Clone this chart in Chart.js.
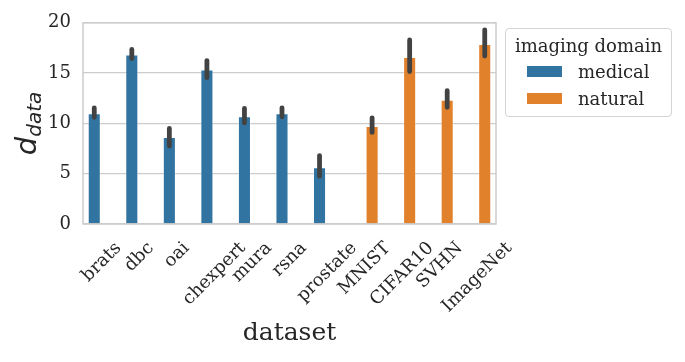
<!DOCTYPE html>
<html>
<head>
<meta charset="utf-8">
<script src="https://cdn.jsdelivr.net/npm/chart.js@4/dist/chart.umd.min.js"></script>
<style>
  html, body { margin: 0; padding: 0; background: #ffffff; }
  #wrap { position: relative; width: 685px; height: 362px; }
  #legend {
    position: absolute; left: 505px; top: 28px; width: 165px; height: 87px;
    border: 1px solid #d4d4d4; border-radius: 4px; background: #fff;
    font-family: "DejaVu Serif", serif; font-size: 18px; color: #262626;
  }
  #legend .title { position: absolute; left: 0; right: 0; text-align: center; line-height: 1; transform: translateY(-50%); top: 17px; white-space: nowrap; }
  #legend .sw { position: absolute; left: 21px; width: 35px; height: 11px; }
  #legend .lb { position: absolute; left: 72px; white-space: nowrap; line-height: 1; transform: translateY(-50%); }
</style>
</head>
<body>
<div id="wrap">
  <canvas id="c" width="685" height="362"></canvas>
  <div id="legend"></div>
</div>
<script>
const categories = ["brats","dbc","oai","chexpert","mura","rsna","prostate","MNIST","CIFAR10","SVHN","ImageNet"];
const medicalValues = [11.0, 16.85, 8.65, 15.35, 10.7, 11.0, 5.65, null, null, null, null];
const naturalValues = [null, null, null, null, null, null, null, 9.75, 16.6, 12.35, 17.9];
const medicalLow  = [10.6, 16.45, 7.75, 14.55, 10.05, 10.65, 4.75, null, null, null, null];
const medicalHigh = [11.55, 17.35, 9.5, 16.25, 11.5, 11.55, 6.8, null, null, null, null];
const naturalLow  = [null, null, null, null, null, null, null, 9.1, 15.15, 11.6, 16.7];
const naturalHigh = [null, null, null, null, null, null, null, 10.55, 18.3, 13.25, 19.3];
const seriesNames = ["medical", "natural"];
const yTicks = [0, 5, 10, 15, 20];

const COLORS = ["#3274a1", "#e1812c"];
const TEXT = "#262626";
const GRID = "#cccccc";
const SERIF = '"DejaVu Serif", serif';

const errorBars = [[medicalLow, medicalHigh], [naturalLow, naturalHigh]];

const framePlugin = {
  id: 'frame',
  beforeDatasetsDraw(chart) {
    const {ctx, chartArea: a} = chart;
    ctx.save();
    ctx.strokeStyle = GRID;
    ctx.lineWidth = 1.5;
    ctx.strokeRect(a.left, a.top, a.right - a.left, a.bottom - a.top);
    ctx.restore();
  }
};

const errorPlugin = {
  id: 'errors',
  afterDatasetsDraw(chart) {
    const {ctx} = chart;
    const y = chart.scales.y;
    ctx.save();
    ctx.strokeStyle = "#424242";
    ctx.lineWidth = 4.8;
    ctx.lineCap = "round";
    chart.data.datasets.forEach((ds, i) => {
      const meta = chart.getDatasetMeta(i);
      const [lo, hi] = errorBars[i];
      meta.data.forEach((el, j) => {
        if (ds.data[j] == null || lo[j] == null) return;
        ctx.beginPath();
        ctx.moveTo(el.x, y.getPixelForValue(lo[j]));
        ctx.lineTo(el.x, y.getPixelForValue(hi[j]));
        ctx.stroke();
      });
    });
    ctx.restore();
  }
};

const labelPlugin = {
  id: 'labels',
  afterDraw(chart) {
    const {ctx, chartArea: a} = chart;
    const x = chart.scales.x;
    ctx.save();
    ctx.font = "18px " + SERIF;
    ctx.fillStyle = TEXT;
    ctx.textAlign = "right";
    ctx.textBaseline = "middle";
    const h = 18;
    categories.forEach((c, i) => {
      const w = ctx.measureText(c).width;
      const px = x.getPixelForTick(i) + w * 0.3536;
      const py = a.bottom + 15 + h * 0.5 * 0.7071;
      ctx.save();
      ctx.translate(px, py);
      ctx.rotate(-Math.PI / 4);
      ctx.fillText(c, 0, 0);
      ctx.restore();
    });
    const cy = (a.top + a.bottom) / 2;
    ctx.save();
    ctx.translate(36, cy);
    ctx.rotate(-Math.PI / 2);
    ctx.textAlign = "left";
    ctx.textBaseline = "alphabetic";
    ctx.font = "italic 29px 'DejaVu Sans', sans-serif";
    const wd = ctx.measureText("d").width;
    ctx.font = "italic 20px 'DejaVu Sans', sans-serif";
    const ws = ctx.measureText("data").width;
    const start = -(wd + ws) / 2;
    ctx.font = "italic 29px 'DejaVu Sans', sans-serif";
    ctx.fillText("d", start, 0);
    ctx.font = "italic 20px 'DejaVu Sans', sans-serif";
    ctx.fillText("data", start + wd, 5);
    ctx.restore();
    ctx.restore();
  }
};

new Chart(document.getElementById('c'), {
  type: 'bar',
  data: {
    labels: categories,
    datasets: [
      { label: seriesNames[0], data: medicalValues, backgroundColor: COLORS[0], borderColor: "rgba(255,255,255,0.35)", borderWidth: 1 },
      { label: seriesNames[1], data: naturalValues, backgroundColor: COLORS[1], borderColor: "rgba(255,255,255,0.35)", borderWidth: 1 }
    ]
  },
  options: {
    responsive: false,
    animation: false,
    devicePixelRatio: 1,
    layout: { padding: { top: 20, right: 189, left: 0, bottom: 0 } },
    datasets: { bar: { categoryPercentage: 0.8, barPercentage: 0.87 } },
    plugins: { legend: { display: false }, tooltip: { enabled: false } },
    scales: {
      x: {
        ticks: { display: false },
        grid: { display: false },
        border: { display: false },
        title: { display: true, text: "dataset", color: TEXT, font: { family: SERIF, size: 25 }, padding: { top: 0, bottom: 14 } },
        afterFit(s) { s.height = 138; }
      },
      y: {
        min: 0, max: 20,
        afterBuildTicks(s) { s.ticks = yTicks.map(v => ({ value: v })); },
        ticks: { color: TEXT, font: { family: SERIF, size: 18 }, padding: 12 },
        grid: { color: GRID, lineWidth: 1.3, drawTicks: false },
        border: { display: false },
        afterFit(s) { s.width = 83; }
      }
    }
  },
  plugins: [framePlugin, errorPlugin, labelPlugin]
});

const leg = document.getElementById('legend');
const t = document.createElement('div');
t.className = 'title'; t.textContent = 'imaging domain';
leg.appendChild(t);
seriesNames.forEach((n, i) => {
  const top = 43 + i * 27;
  const sw = document.createElement('div');
  sw.className = 'sw'; sw.style.background = COLORS[i]; sw.style.top = (top - 6) + 'px';
  leg.appendChild(sw);
  const lb = document.createElement('div');
  lb.className = 'lb'; lb.textContent = n; lb.style.top = top + 'px';
  leg.appendChild(lb);
});
</script>
</body>
</html>
